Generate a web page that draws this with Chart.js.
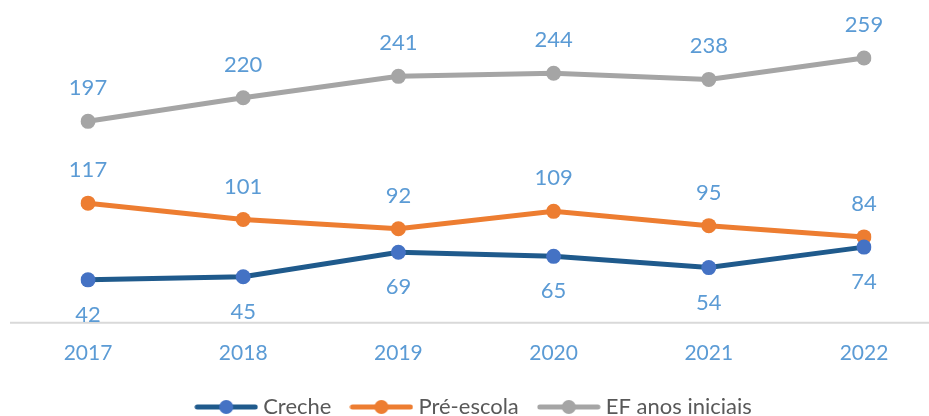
<!DOCTYPE html>
<html>
<head>
<meta charset="utf-8">
<script src="https://cdn.jsdelivr.net/npm/chart.js@4/dist/chart.umd.min.js"></script>
<style>
  html, body { margin: 0; padding: 0; background: #fff; }
  #wrap { width: 929px; height: 416px; }
</style>
</head>
<body>
<div id="wrap"><canvas id="chart"></canvas></div>
<script>
// Chart data
const years = ['2017', '2018', '2019', '2020', '2021', '2022'];
const creche = [42, 45, 69, 65, 54, 74];
const preEscola = [117, 101, 92, 109, 95, 84];
const efIniciais = [197, 220, 241, 244, 238, 259];

const labelColor = '#5b9bd5';
const fontFamily = 'Lato, "Liberation Sans", sans-serif';

// legend sample: a short line with a dot in the middle
function legendIcon(lineColor, dotColor) {
    const c = document.createElement('canvas');
    c.width = 64;
    c.height = 16;
    const g = c.getContext('2d');
    g.strokeStyle = lineColor;
    g.lineWidth = 5;
    g.lineCap = 'round';
    g.beginPath();
    g.moveTo(3, 8);
    g.lineTo(61, 8);
    g.stroke();
    g.fillStyle = dotColor;
    g.beginPath();
    g.arc(32, 8, 7, 0, Math.PI * 2);
    g.fill();
    return c;
}

const icons = [
    legendIcon('#1f5a8c', '#4472c4'),
    legendIcon('#ed7d31', '#ed7d31'),
    legendIcon('#a5a5a5', '#a5a5a5')
];

// value labels above/below points
const valueLabels = {
    id: 'valueLabels',
    afterDatasetsDraw(chart) {
        const ctx = chart.ctx;
        ctx.save();
        ctx.font = '22px ' + fontFamily;
        ctx.fillStyle = labelColor;
        ctx.textAlign = 'center';
        ctx.textBaseline = 'middle';
        chart.data.datasets.forEach((ds, i) => {
            const meta = chart.getDatasetMeta(i);
            meta.data.forEach((pt, j) => {
                const dy = ds.labelBelow ? 35 : -33;
                ctx.fillText(ds.data[j], pt.x, pt.y + dy);
            });
        });
        ctx.restore();
    }
};

// bottom axis line across the whole width
const baseLine = {
    id: 'baseLine',
    beforeDatasetsDraw(chart) {
        const ctx = chart.ctx;
        const y = chart.chartArea.bottom;
        ctx.save();
        ctx.strokeStyle = '#d9d9d9';
        ctx.lineWidth = 2;
        ctx.beginPath();
        ctx.moveTo(10, y);
        ctx.lineTo(929, y);
        ctx.stroke();
        ctx.restore();
    }
};

new Chart(document.getElementById('chart'), {
    type: 'line',
    data: {
        labels: years,
        datasets: [
            {
                label: 'Creche',
                data: creche,
                borderColor: '#1f5a8c',
                backgroundColor: '#4472c4',
                pointBackgroundColor: '#4472c4',
                labelBelow: true
            },
            {
                label: 'Pré-escola',
                data: preEscola,
                borderColor: '#ed7d31',
                backgroundColor: '#ed7d31',
                pointBackgroundColor: '#ed7d31'
            },
            {
                label: 'EF anos iniciais',
                data: efIniciais,
                borderColor: '#a5a5a5',
                backgroundColor: '#a5a5a5',
                pointBackgroundColor: '#a5a5a5'
            }
        ]
    },
    options: {
        responsive: true,
        maintainAspectRatio: false,
        animation: false,
        layout: {
            padding: { left: 88, right: 65, top: 16, bottom: -12 }
        },
        elements: {
            line: { borderWidth: 5, tension: 0 },
            point: { pointStyle: 'circle', radius: 7.5, borderWidth: 0, hoverRadius: 7.5 }
        },
        scales: {
            x: {
                offset: false,
                grid: { display: false, drawTicks: false },
                border: { display: false },
                ticks: {
                    color: labelColor,
                    font: { size: 21, family: fontFamily },
                    padding: 18,
                    maxRotation: 0
                },
                afterFit(scale) {
                    scale.height -= 12;
                }
            },
            y: {
                display: false,
                min: 0,
                max: 300
            }
        },
        plugins: {
            legend: {
                position: 'bottom',
                labels: {
                    usePointStyle: true,
                    pointStyleWidth: 52,
                    color: '#595959',
                    font: { size: 22, family: fontFamily },
                    padding: 24,
                    generateLabels(chart) {
                        const items = Chart.defaults.plugins.legend.labels.generateLabels(chart);
                        items.forEach((item, i) => { item.pointStyle = icons[i]; });
                        return items;
                    }
                }
            },
            tooltip: { enabled: false }
        }
    },
    plugins: [valueLabels, baseLine]
});
</script>
</body>
</html>
